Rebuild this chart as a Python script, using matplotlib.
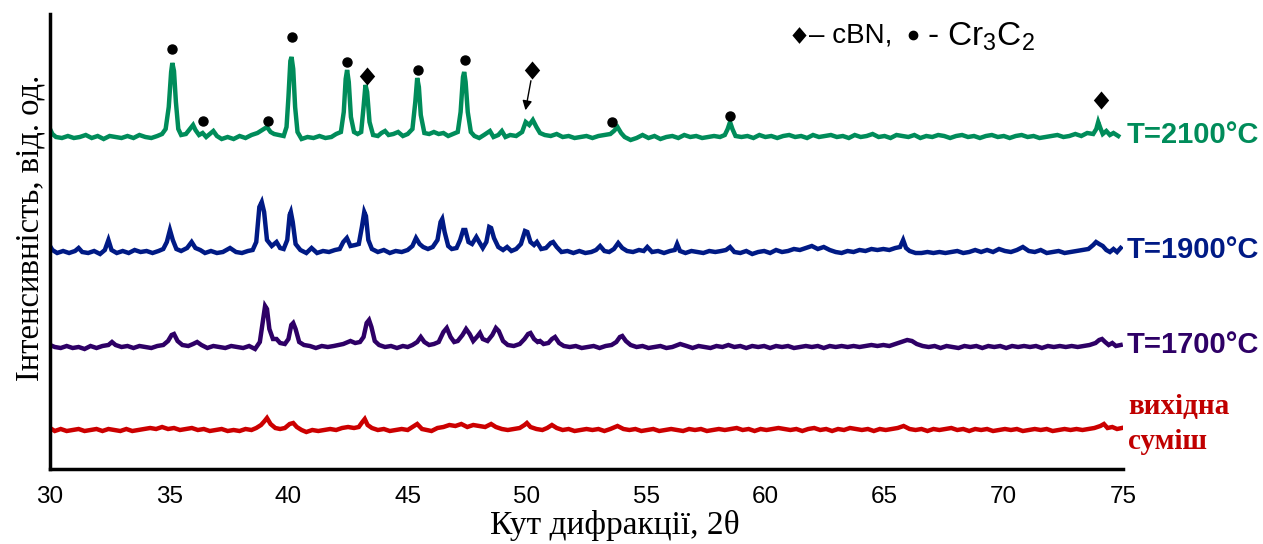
import matplotlib
matplotlib.use("Agg")
import matplotlib.pyplot as plt
import numpy as np

# XRD patterns (2theta, intensity above own baseline)
xrd_2100 = [
    (30.0, 8), (30.1, 3), (30.25, 0), (30.5, -1), (30.75, 1), (31.0, -1), (31.25, 0), (31.5, 2),
    (31.75, -1), (32.0, 1), (32.25, -2), (32.5, 1), (32.75, 0), (33.0, -1), (33.25, 1), (33.5, -1),
    (33.75, 2), (34.0, 0), (34.25, -1), (34.5, 1), (34.7, 3), (34.85, 8), (34.98, 30), (35.08, 65),
    (35.13, 74), (35.2, 66), (35.28, 35), (35.38, 8), (35.5, 2), (35.7, 3), (35.9, 9), (36.0, 12),
    (36.1, 7), (36.25, 2), (36.4, 4), (36.55, 0), (36.7, 3), (36.85, 6), (37.0, 1), (37.2, -2),
    (37.45, 0), (37.7, -2), (37.95, 1), (38.2, -1), (38.45, 2), (38.7, 4), (38.9, 7), (39.1, 10),
    (39.25, 5), (39.4, 3), (39.6, 2), (39.8, 1), (39.92, 10), (40.0, 40), (40.08, 76), (40.13, 80),
    (40.2, 68), (40.28, 30), (40.38, 5), (40.55, -2), (40.8, 0), (41.05, -1), (41.3, 1), (41.55, -1),
    (41.8, 0), (42.0, 3), (42.2, 5), (42.32, 25), (42.4, 58), (42.46, 67), (42.53, 55), (42.62, 20),
    (42.75, 5), (42.9, 3), (43.05, 5), (43.15, 30), (43.23, 52), (43.3, 45), (43.4, 15), (43.55, 2),
    (43.75, 1), (43.9, 4), (44.05, 6), (44.2, 2), (44.4, 3), (44.6, 5), (44.8, 1), (45.0, 3),
    (45.2, 8), (45.32, 35), (45.4, 59), (45.47, 50), (45.55, 22), (45.7, 4), (45.9, 3), (46.1, 5),
    (46.3, 3), (46.5, 4), (46.7, 1), (46.9, 3), (47.1, 5), (47.22, 25), (47.32, 60), (47.37, 65),
    (47.43, 55), (47.52, 25), (47.65, 5), (47.8, 1), (48.0, -1), (48.2, 2), (48.45, 6), (48.6, 0),
    (48.8, 2), (48.95, 6), (49.1, 0), (49.3, 2), (49.55, 1), (49.8, 5), (49.95, 15), (50.1, 12),
    (50.25, 17), (50.4, 10), (50.55, 4), (50.75, 2), (51.0, 1), (51.25, 3), (51.5, 0), (51.75, 1),
    (52.0, -1), (52.25, 0), (52.5, 1), (52.75, -1), (53.0, 1), (53.25, 2), (53.5, 3), (53.65, 6),
    (53.8, 10), (53.95, 4), (54.1, 0), (54.35, -3), (54.6, -1), (54.85, 2), (55.1, -1), (55.35, 1),
    (55.6, -2), (55.85, 0), (56.1, 1), (56.35, -1), (56.6, 2), (56.85, 0), (57.1, 1), (57.35, -1),
    (57.6, 0), (57.85, 1), (58.1, 0), (58.3, 2), (58.42, 8), (58.52, 15), (58.62, 8), (58.75, 1),
    (59.0, 0), (59.25, 1), (59.5, -1), (59.75, 2), (60.0, 0), (60.25, 1), (60.5, -1), (60.75, 1),
    (61.0, 2), (61.25, 0), (61.5, 1), (61.75, -1), (62.0, 2), (62.25, 0), (62.5, 1), (62.75, 2),
    (63.0, 0), (63.25, 1), (63.5, -1), (63.75, 2), (64.0, 0), (64.25, 1), (64.5, 3), (64.75, 0),
    (65.0, 1), (65.25, -1), (65.5, 2), (65.75, 1), (66.0, 0), (66.25, 2), (66.5, -1), (66.75, 1),
    (67.0, 0), (67.25, 2), (67.5, 1), (67.75, -1), (68.0, 1), (68.25, 2), (68.5, 0), (68.75, 1),
    (69.0, -1), (69.25, 1), (69.5, 2), (69.75, 0), (70.0, 1), (70.25, -1), (70.5, 1), (70.75, 2),
    (71.0, 0), (71.25, 1), (71.5, -1), (71.75, 0), (72.0, 1), (72.25, 2), (72.5, 0), (72.75, 1),
    (73.0, 3), (73.25, 1), (73.5, 4), (73.75, 3), (73.88, 8), (73.96, 15), (74.05, 9), (74.15, 3),
    (74.3, 6), (74.45, 2), (74.6, 4), (74.8, 1),
]

xrd_1900 = [
    (30.0, 6), (30.1, 2), (30.3, -1), (30.55, 1), (30.8, -1), (31.05, 1), (31.2, 4), (31.35, 0),
    (31.6, -1), (31.85, 1), (32.1, -2), (32.3, 2), (32.45, 12), (32.58, 2), (32.8, -1), (33.05, 1),
    (33.3, -1), (33.55, 2), (33.8, 0), (34.05, 1), (34.3, -1), (34.55, 1), (34.75, 3), (34.9, 10),
    (35.03, 22), (35.15, 12), (35.3, 3), (35.5, 1), (35.75, 4), (35.94, 10), (36.1, 4), (36.3, 2),
    (36.5, -1), (36.75, 1), (37.0, -1), (37.25, 0), (37.55, 4), (37.8, 0), (38.05, -1), (38.3, 1),
    (38.5, 2), (38.65, 10), (38.78, 45), (38.88, 50), (38.98, 40), (39.1, 12), (39.3, 6), (39.5, 10),
    (39.65, 4), (39.8, 3), (39.95, 12), (40.05, 37), (40.1, 40), (40.18, 30), (40.3, 8), (40.5, 2),
    (40.75, -1), (40.97, 4), (41.2, -1), (41.45, 1), (41.7, 0), (41.95, 2), (42.15, 3), (42.3, 10),
    (42.45, 14), (42.6, 6), (42.8, 7), (42.95, 8), (43.08, 25), (43.18, 40), (43.25, 36), (43.35, 12),
    (43.5, 3), (43.75, 0), (44.0, 2), (44.25, -1), (44.5, 1), (44.75, 0), (45.0, 2), (45.2, 6),
    (45.35, 14), (45.5, 8), (45.65, 5), (45.85, 3), (46.05, 5), (46.25, 12), (46.38, 30), (46.45, 33),
    (46.55, 20), (46.7, 6), (46.85, 3), (47.05, 4), (47.2, 12), (47.33, 22), (47.42, 22), (47.55, 10),
    (47.7, 8), (47.88, 15), (48.0, 10), (48.15, 4), (48.3, 10), (48.42, 25), (48.5, 24), (48.62, 14),
    (48.8, 5), (49.0, 2), (49.17, 5), (49.35, 1), (49.55, 3), (49.75, 8), (49.92, 21), (50.02, 20),
    (50.15, 10), (50.3, 7), (50.42, 10), (50.6, 3), (50.8, 4), (51.0, 9), (51.1, 10), (51.25, 5),
    (51.45, 0), (51.7, 1), (51.95, -1), (52.2, 1), (52.45, -1), (52.7, 0), (52.9, 2), (53.07, 6),
    (53.25, 1), (53.45, 0), (53.65, 3), (53.83, 9), (54.0, 4), (54.2, 1), (54.45, 0), (54.7, 2),
    (54.9, 1), (55.05, 5), (55.25, 0), (55.5, 1), (55.75, -1), (56.0, 1), (56.2, 2), (56.3, 8),
    (56.42, 1), (56.65, -1), (56.9, 1), (57.15, 0), (57.4, -1), (57.65, 1), (57.9, 0), (58.15, 1),
    (58.35, 2), (58.52, 5), (58.7, 0), (58.95, -1), (59.2, 1), (59.45, -2), (59.7, 0), (59.95, 1),
    (60.2, -1), (60.45, 2), (60.7, 0), (60.95, 1), (61.2, 3), (61.45, 2), (61.7, 4), (61.95, 6),
    (62.2, 3), (62.45, 5), (62.7, 2), (62.95, 0), (63.2, -1), (63.45, 1), (63.7, 0), (63.95, 2),
    (64.2, 1), (64.45, 3), (64.7, 2), (64.95, 3), (65.2, 2), (65.45, 4), (65.65, 5), (65.78, 12),
    (65.9, 4), (66.05, 1), (66.3, -1), (66.55, -1), (66.8, 0), (67.05, -1), (67.3, 0), (67.55, -1),
    (67.8, 0), (68.05, 1), (68.3, -1), (68.55, 0), (68.8, 2), (69.05, 0), (69.3, 2), (69.55, 0),
    (69.8, 3), (70.05, 1), (70.3, 0), (70.55, 2), (70.8, 5), (71.05, 1), (71.3, 0), (71.55, 2),
    (71.8, -1), (72.05, 0), (72.3, 1), (72.55, -1), (72.8, 0), (73.05, 1), (73.3, 2), (73.55, 3),
    (73.75, 7), (73.87, 10), (74.0, 8), (74.15, 6), (74.3, 2), (74.45, 0), (74.6, 3), (74.75, 0),
    (74.9, 4),
]

xrd_1700 = [
    (30.0, 2), (30.2, 0), (30.45, -1), (30.7, 1), (30.95, -1), (31.2, 0), (31.45, -2), (31.7, 1),
    (31.95, -1), (32.2, 1), (32.45, 2), (32.6, 5), (32.75, 2), (33.0, 0), (33.25, 1), (33.5, -1),
    (33.75, 1), (34.0, 0), (34.25, -1), (34.5, 1), (34.75, 2), (34.95, 6), (35.1, 12), (35.2, 13),
    (35.35, 6), (35.55, 2), (35.8, 1), (36.0, 3), (36.17, 5), (36.35, 2), (36.6, -1), (36.85, 1),
    (37.1, 0), (37.35, -1), (37.6, 1), (37.85, 0), (38.1, -1), (38.35, 1), (38.6, -2), (38.8, 5),
    (38.92, 25), (39.02, 41), (39.1, 38), (39.2, 18), (39.35, 8), (39.5, 8), (39.65, 4), (39.85, 3),
    (40.0, 8), (40.12, 22), (40.2, 24), (40.3, 18), (40.45, 5), (40.65, 2), (40.9, 1), (41.15, -1),
    (41.4, 1), (41.65, 0), (41.9, 1), (42.1, 2), (42.3, 3), (42.6, 6), (42.8, 4), (43.0, 5),
    (43.15, 10), (43.28, 24), (43.38, 27), (43.48, 20), (43.62, 6), (43.8, 2), (44.05, 0), (44.3, 1),
    (44.55, -1), (44.8, 1), (45.0, 0), (45.2, 2), (45.4, 5), (45.55, 10), (45.7, 5), (45.9, 2),
    (46.1, 3), (46.3, 5), (46.5, 15), (46.64, 19), (46.8, 10), (46.95, 5), (47.1, 6), (47.3, 12),
    (47.45, 18), (47.6, 13), (47.75, 6), (47.9, 10), (48.03, 14), (48.15, 8), (48.35, 6), (48.55, 12),
    (48.7, 19), (48.82, 16), (49.0, 6), (49.2, 2), (49.45, 1), (49.7, 3), (49.9, 8), (50.05, 13),
    (50.15, 14), (50.3, 8), (50.45, 5), (50.55, 6), (50.7, 3), (50.9, 4), (51.05, 8), (51.18, 10),
    (51.35, 4), (51.55, 1), (51.8, 0), (52.05, 1), (52.3, -1), (52.55, 0), (52.8, 1), (53.05, -1),
    (53.3, 1), (53.55, 2), (53.75, 5), (53.9, 10), (54.0, 11), (54.15, 6), (54.35, 2), (54.6, 0),
    (54.85, 1), (55.1, -1), (55.35, 0), (55.6, 1), (55.85, -1), (56.1, 0), (56.43, 3), (56.7, 1),
    (56.95, -1), (57.2, 1), (57.45, 0), (57.7, -1), (57.95, 1), (58.2, 0), (58.45, 2), (58.7, 0),
    (58.95, 1), (59.2, -1), (59.45, 1), (59.7, 0), (59.95, 1), (60.2, -1), (60.45, 1), (60.7, 0),
    (60.95, 1), (61.2, -1), (61.45, 0), (61.7, 1), (61.95, 0), (62.2, 1), (62.45, -1), (62.7, 1),
    (62.95, 0), (63.2, 1), (63.45, 0), (63.7, 1), (63.95, 0), (64.2, 1), (64.45, 2), (64.7, 1),
    (64.95, 2), (65.2, 1), (65.45, 3), (65.7, 5), (65.95, 7), (66.15, 6), (66.35, 3), (66.6, 1),
    (66.85, 0), (67.1, 1), (67.35, -1), (67.6, 1), (67.85, 0), (68.1, -1), (68.35, 1), (68.6, 0),
    (68.85, 1), (69.1, -1), (69.35, 1), (69.6, 0), (69.85, 1), (70.1, -1), (70.35, 1), (70.6, 0),
    (70.85, 1), (71.1, 0), (71.35, 1), (71.6, -1), (71.85, 1), (72.1, 0), (72.35, 1), (72.6, 0),
    (72.85, 1), (73.1, 0), (73.35, 1), (73.6, 2), (73.85, 4), (74.0, 7), (74.12, 8), (74.25, 5),
    (74.4, 2), (74.55, 4), (74.7, 1), (74.9, 2),
]

xrd_mix = [
    (30.0, 2), (30.2, -1), (30.45, 1), (30.7, -1), (30.95, 0), (31.2, 1), (31.45, -1), (31.7, 0),
    (31.95, 1), (32.2, -1), (32.45, 1), (32.7, 0), (32.95, -1), (33.2, 1), (33.45, -1), (33.7, 0),
    (33.95, 1), (34.2, 2), (34.45, 1), (34.7, 3), (34.95, 1), (35.2, 2), (35.45, 0), (35.7, 1),
    (35.95, 2), (36.2, 0), (36.45, 1), (36.7, -1), (36.95, 0), (37.2, 1), (37.45, -1), (37.7, 0),
    (37.95, -1), (38.2, 1), (38.45, 0), (38.65, 2), (38.85, 5), (39.0, 9), (39.1, 12), (39.25, 6),
    (39.45, 2), (39.65, 1), (39.85, 2), (40.05, 6), (40.2, 7), (40.35, 3), (40.55, 0), (40.75, -2),
    (41.0, 0), (41.25, -1), (41.5, 0), (41.75, 1), (42.0, 0), (42.25, 2), (42.5, 3), (42.75, 2),
    (42.95, 3), (43.1, 8), (43.2, 11), (43.32, 5), (43.5, 2), (43.75, 0), (44.0, 1), (44.25, -1),
    (44.5, 0), (44.75, 1), (45.0, 0), (45.2, 3), (45.4, 6), (45.6, 1), (45.8, 0), (46.0, -1),
    (46.25, 2), (46.5, 3), (46.75, 5), (47.0, 4), (47.25, 6), (47.5, 3), (47.75, 5), (48.0, 4),
    (48.25, 3), (48.5, 6), (48.7, 3), (48.95, 1), (49.2, 0), (49.45, 1), (49.7, 2), (49.9, 5),
    (50.0, 7), (50.15, 3), (50.4, 1), (50.65, 0), (50.85, 2), (51.05, 5), (51.25, 2), (51.5, 0),
    (51.75, 1), (52.0, -1), (52.25, 0), (52.5, 1), (52.75, 0), (53.0, 1), (53.25, -1), (53.5, 1),
    (53.8, 4), (54.05, 1), (54.3, 0), (54.55, 1), (54.8, -1), (55.05, 0), (55.3, 1), (55.55, -1),
    (55.8, 0), (56.05, 1), (56.3, 0), (56.55, -1), (56.8, 1), (57.05, 0), (57.3, 1), (57.55, -1),
    (57.8, 0), (58.05, 1), (58.3, 0), (58.55, 1), (58.8, 2), (59.05, 0), (59.3, 1), (59.55, -1),
    (59.8, 1), (60.05, 0), (60.3, 1), (60.55, 2), (60.8, 1), (61.05, 0), (61.3, 1), (61.55, -1),
    (61.8, 1), (62.05, 2), (62.3, 0), (62.55, 1), (62.8, -1), (63.05, 1), (63.3, 0), (63.55, 2),
    (63.8, 1), (64.05, 0), (64.3, 1), (64.55, -1), (64.8, 1), (65.05, 0), (65.3, 1), (65.55, 2),
    (65.8, 4), (66.05, 1), (66.3, 0), (66.55, 1), (66.8, -1), (67.05, 1), (67.3, 0), (67.55, 1),
    (67.8, 2), (68.05, 0), (68.3, 1), (68.55, -1), (68.8, 1), (69.05, 0), (69.3, 1), (69.55, -1),
    (69.8, 0), (70.05, 1), (70.3, 0), (70.55, 1), (70.8, -1), (71.05, 0), (71.3, 1), (71.55, 0),
    (71.8, 1), (72.05, -1), (72.3, 0), (72.55, 1), (72.8, 0), (73.05, 1), (73.3, 0), (73.55, 1),
    (73.8, 2), (74.05, 4), (74.2, 6), (74.35, 2), (74.55, 3), (74.75, 1), (74.95, 2),
]

# phase marks over the T=2100 pattern (2theta, height above its baseline)
cr3c2_marks = [(35.13, 88), (36.4, 16), (39.14, 16), (40.15, 100), (42.45, 75),
               (45.42, 67), (47.4, 77), (53.57, 15), (58.52, 21)]
cbn_marks = [(43.3, 61), (50.22, 67), (74.08, 37)]
cbn_arrow_tip = (49.92, 24)

labels = ["T=2100°C", "T=1900°C", "T=1700°C", "вихідна\nсуміш"]
colors = ["#008C5A", "#001A85", "#2E0066", "#CC0000"]
offsets = [332, 217, 122, 39]

# wide diamond like the one in the original
diamond = [(0, 1), (0.85, 0), (0, -1), (-0.85, 0), (0, 1)]

plt.rcParams["font.family"] = ["Liberation Sans", "DejaVu Sans"]

fig = plt.figure(figsize=(12.63, 5.44), dpi=100)
ax = fig.add_axes([50 / 1263, 75 / 544, 1073 / 1263, 455 / 544])

series = [xrd_2100, xrd_1900, xrd_1700, xrd_mix]
for data, col, off in zip(series[::-1], colors[::-1], offsets[::-1]):
    tt, ii = np.array(data, dtype=float).T
    ax.plot(tt, ii + off, color=col, lw=3.2, solid_joinstyle="miter")

# labels at the right end of each pattern
for lab, col, off in zip(labels[:3], colors[:3], offsets[:3]):
    ax.text(75.15, off + 2, lab, color=col, fontsize=21, fontweight="bold",
            va="center", ha="left", clip_on=False)
ax.text(75.22, offsets[3] + 6, labels[3], color="#C00000", fontsize=21, fontweight="bold",
        family="Liberation Serif", va="center", ha="left", linespacing=1.35, clip_on=False)

# phase markers
top = offsets[0]
cx, cy = np.array(cr3c2_marks).T
ax.plot(cx, cy + top, "o", color="black", ms=6.5, ls="none")
bx, by = np.array(cbn_marks).T
ax.plot(bx, by + top, marker=diamond, color="black", ms=13, mew=0, ls="none")
ax.annotate("", xy=(cbn_arrow_tip[0], cbn_arrow_tip[1] + top),
            xytext=(cbn_marks[1][0] - 0.03, cbn_marks[1][1] + top - 8),
            arrowprops=dict(arrowstyle="-|>", color="black", lw=1.0, mutation_scale=14))

# legend for markers
ax.plot([61.4], [434], marker=diamond, color="black", ms=12, mew=0, clip_on=False)
ax.text(61.85, 433, "– cBN,", fontsize=20, va="center", ha="left")
ax.plot([66.2], [434], "o", color="black", ms=6, clip_on=False)
ax.text(66.8, 432, r"- Cr$\mathregular{_3}$C$\mathregular{_2}$", fontsize=24, va="center", ha="left")

ax.set_xlim(30, 75)
ax.set_ylim(0, 455)
ax.set_xticks(range(30, 76, 5))
ax.tick_params(axis="x", length=0, pad=12, labelsize=17.5)
ax.set_yticks([])
for s in ["top", "right"]:
    ax.spines[s].set_visible(False)
for s in ["left", "bottom"]:
    ax.spines[s].set_linewidth(2.5)
    ax.spines[s].set_color("black")

ax.set_xlabel("Кут дифракції, 2θ", family="Liberation Serif", fontsize=24)
ax.xaxis.set_label_coords(0.526, -0.09)
fig.text(30 / 1263, 1 - 228 / 544, "Інтенсивність, від. од.", family="Liberation Serif",
         fontsize=23.5, rotation=90, ha="center", va="center")

fig.savefig("out.png", dpi=100)
